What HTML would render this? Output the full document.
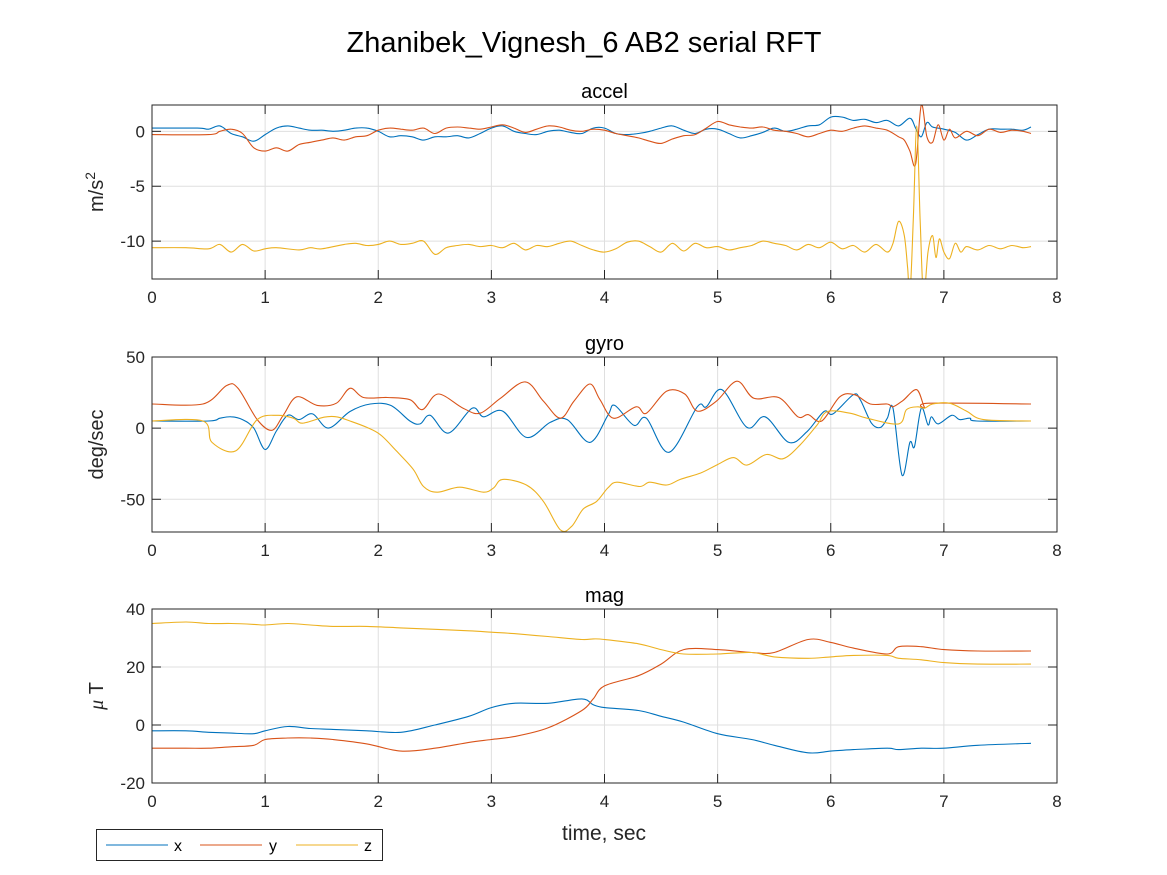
<!DOCTYPE html>
<html><head><meta charset="utf-8">
<style>
html,body{margin:0;padding:0;background:#fff;}
svg{display:block;font-family:"Liberation Sans",Arial,sans-serif;}
</style></head>
<body>
<svg id="chart" width="1167" height="875" viewBox="0 0 1167 875" xmlns="http://www.w3.org/2000/svg">
<rect width="1167" height="875" fill="#fff"/>
<text x="584" y="52" font-size="29" text-anchor="middle" fill="#000">Zhanibek_Vignesh_6 AB2 serial RFT</text>
<g id="plots"></g>
<g>
<rect x="96.5" y="829.5" width="286" height="31" fill="#fff" stroke="#262626" stroke-width="1"/>
<line x1="106" y1="845" x2="168" y2="845" stroke="#0072BD" stroke-width="1"/>
<text x="174" y="851" font-size="16">x</text>
<line x1="200" y1="845" x2="262" y2="845" stroke="#D95319" stroke-width="1"/>
<text x="269" y="851" font-size="16">y</text>
<line x1="296" y1="845" x2="358" y2="845" stroke="#EDB120" stroke-width="1"/>
<text x="364" y="851" font-size="16">z</text>
</g>
</svg>
<script>
// ---- data ----
const xTicks=[0,1,2,3,4,5,6,7,8];
const accelYTicks=[0,-5,-10];
const gyroYTicks=[50,0,-50];
const magYTicks=[40,20,0,-20];

const accelXt=[0,0.4,0.5,0.6,0.7,0.8,0.9,1.0,1.1,1.2,1.3,1.4,1.5,1.6,1.7,1.8,1.9,2.0,2.1,2.2,2.3,2.4,2.5,2.6,2.7,2.8,2.9,3.0,3.1,3.2,3.3,3.4,3.5,3.6,3.7,3.8,3.9,4.0,4.1,4.2,4.3,4.4,4.5,4.6,4.7,4.8,4.9,5.0,5.1,5.2,5.3,5.4,5.5,5.6,5.7,5.8,5.9,6.0,6.1,6.2,6.3,6.4,6.5,6.6,6.7,6.75,6.8,6.85,6.9,7.0,7.1,7.2,7.3,7.4,7.5,7.6,7.7,7.77];
const accelX=[0.3,0.3,0.2,0.5,-0.2,-0.5,-0.9,-0.3,0.3,0.5,0.3,0.1,0.1,0.0,0.1,0.3,0.3,0.0,-0.5,-0.4,-0.5,-0.8,-0.5,-0.5,-0.4,-0.6,-0.2,0.3,0.5,0.0,-0.2,-0.3,0.0,0.1,-0.1,-0.2,0.3,0.3,-0.2,-0.3,-0.2,0.0,0.3,0.5,0.1,-0.2,0.2,0.2,-0.2,-0.6,-0.4,-0.1,0.3,0.0,0.2,0.5,0.6,1.3,1.3,1.0,1.1,0.8,1.0,0.5,1.2,0.3,-0.5,0.8,0.4,0.2,-0.1,-0.8,-0.3,0.2,0.2,0.2,0.1,0.4];
const accelYt=[0,0.5,0.6,0.7,0.8,0.9,1.0,1.1,1.2,1.3,1.4,1.5,1.6,1.7,1.8,1.9,2.0,2.1,2.2,2.3,2.4,2.5,2.6,2.7,2.8,2.9,3.0,3.1,3.2,3.3,3.4,3.5,3.6,3.7,3.8,3.9,4.0,4.1,4.2,4.3,4.4,4.5,4.6,4.7,4.8,4.9,5.0,5.1,5.2,5.3,5.4,5.5,5.6,5.7,5.8,5.9,6.0,6.1,6.2,6.3,6.4,6.5,6.6,6.65,6.7,6.75,6.8,6.85,6.9,6.95,7.0,7.05,7.1,7.2,7.3,7.4,7.5,7.6,7.7,7.77];
const accelY=[-0.3,-0.3,0.0,0.2,-0.2,-1.5,-1.8,-1.5,-1.8,-1.2,-1.0,-0.8,-0.6,-0.8,-0.5,-0.4,0.1,0.3,0.2,0.1,0.3,-0.2,0.3,0.4,0.3,0.2,0.4,0.6,0.3,-0.1,0.2,0.5,0.4,0.1,0.0,0.2,0.1,-0.2,-0.4,-0.6,-0.9,-1.1,-0.7,-0.4,-0.3,0.3,0.9,0.6,0.4,0.3,0.4,0.1,0.0,-0.2,-0.5,-0.2,0.1,0.0,0.3,0.5,0.3,0.1,-0.5,-0.8,-1.8,-3.0,2.4,-0.5,-1.0,0.6,-0.8,0.2,-0.6,0.0,-0.4,0.2,-0.1,0.1,0.0,-0.2];
const accelZt=[0,0.3,0.5,0.6,0.7,0.8,0.9,1.0,1.1,1.3,1.4,1.5,1.7,1.8,1.9,2.0,2.1,2.2,2.3,2.4,2.5,2.6,2.7,2.8,2.9,3.0,3.1,3.2,3.3,3.4,3.5,3.6,3.7,3.8,3.9,4.0,4.1,4.2,4.3,4.4,4.5,4.6,4.7,4.8,4.9,5.0,5.1,5.2,5.3,5.4,5.5,5.6,5.7,5.8,5.9,6.0,6.1,6.2,6.3,6.4,6.5,6.55,6.6,6.65,6.68,6.7,6.73,6.76,6.79,6.82,6.86,6.9,6.93,6.96,7.0,7.05,7.1,7.15,7.2,7.3,7.4,7.5,7.6,7.7,7.77];
const accelZ=[-10.6,-10.6,-10.7,-10.3,-11.0,-10.3,-10.9,-10.7,-10.6,-10.8,-10.6,-10.7,-10.3,-10.2,-10.4,-10.3,-10.0,-10.3,-10.2,-10.0,-11.2,-10.6,-10.4,-10.3,-10.5,-10.4,-10.6,-10.2,-10.8,-10.4,-10.5,-10.2,-10.0,-10.4,-10.8,-11.0,-10.7,-10.1,-10.0,-10.5,-11.0,-10.2,-10.9,-10.2,-10.6,-10.5,-10.8,-10.6,-10.4,-10.0,-10.2,-10.4,-10.8,-10.3,-10.6,-10.1,-10.7,-10.4,-11.0,-10.3,-11.0,-10.2,-8.2,-9.5,-12.5,-15.0,-8.0,0.5,-8.0,-15.0,-11.0,-9.5,-11.5,-9.8,-11.0,-11.6,-10.2,-11.0,-10.5,-10.8,-10.4,-10.7,-10.4,-10.6,-10.5];

const gyroXt=[0,0.5,0.6,0.7,0.8,0.9,1.0,1.1,1.2,1.3,1.42,1.56,1.75,1.93,2.11,2.28,2.37,2.46,2.62,2.83,2.93,3.1,3.31,3.52,3.67,3.87,4.03,4.09,4.26,4.37,4.57,4.82,4.9,5.04,5.26,5.42,5.63,5.79,5.94,6.02,6.2,6.26,6.36,6.44,6.5,6.55,6.63,6.7,6.74,6.8,6.86,6.89,6.95,7.07,7.14,7.23,7.29,7.77];
const gyroX=[5,5,7,8,6,0,-15,-2,9,6,10,0,11.7,17,16,5,3,9,-3.5,14,8,12,-6.5,4,6,-10,9,16,2,7,-17,15,15,27,0.5,8,-10,-2.5,11.7,10,23.5,20,3.5,0.5,7,14,-33,-10,-13,14,2.3,8,3,9,6,7,5,5];
const gyroYt=[0,0.45,0.66,0.76,0.93,1.06,1.16,1.28,1.46,1.63,1.75,1.87,2.08,2.28,2.39,2.53,2.75,2.9,3.08,3.3,3.46,3.61,3.73,3.87,3.96,4.08,4.28,4.37,4.55,4.71,4.82,4.99,5.17,5.32,5.54,5.71,5.8,5.92,6.08,6.21,6.35,6.5,6.55,6.64,6.76,6.83,6.87,7.77];
const gyroY=[17,17,30,28,6,-1.5,9,22,16,17.5,28,21.5,21.5,20,13,24,14,10.5,21,32.5,19,7,19,31,20,7,15,10.5,26,24,12,19,33,21,21.5,8,9.5,5,22,23.5,17,17,15,19.5,27,14.5,17.5,17];
const gyroZt=[0,0.45,0.53,0.74,0.93,1.11,1.25,1.33,1.52,1.63,1.75,1.9,2.02,2.16,2.31,2.4,2.52,2.72,2.93,3.02,3.1,3.31,3.46,3.61,3.71,3.81,3.93,4.03,4.11,4.31,4.4,4.55,4.67,4.85,4.99,5.14,5.26,5.43,5.58,5.73,5.88,5.97,6.17,6.32,6.6,6.67,6.77,6.83,6.9,7.05,7.2,7.35,7.77];
const gyroZ=[5,5,-10,-16,6,9,7,3.5,7.7,8,5,0.5,-4.7,-16,-29,-41,-45,-41.5,-45,-42,-36,-40,-51.5,-71.5,-69,-57,-51.5,-42,-38,-41,-38,-40,-36,-31.5,-26,-20.7,-26,-18.5,-21.5,-11.7,2.3,11.7,10.5,7,3,13,15,14,17,17.5,12,6,5];

const magT=[0,0.3,0.5,0.7,0.9,1.0,1.2,1.4,1.6,1.9,2.2,2.5,2.8,3.0,3.2,3.5,3.8,3.9,4.0,4.3,4.5,4.7,5.0,5.3,5.5,5.8,6.0,6.2,6.5,6.6,6.8,7.0,7.3,7.77];
const magX=[-2,-2,-2.5,-2.8,-3,-2,-0.5,-1.2,-1.5,-2,-2.5,0,3,6,7.5,7.5,9,7,6,5,3,1,-3,-5,-7,-9.6,-9,-8.5,-8,-8.5,-8,-8,-7,-6.3];
const magY=[-8,-8,-8,-7.5,-7,-5,-4.5,-4.5,-5,-6.5,-9,-8,-6,-5,-4,-1,5,9,13.5,17,21,26,26,25,25,29.5,28.5,26.5,24.5,27,27,26,25.5,25.5];
const magZ=[35,35.5,35,35,34.7,34.5,35,34.5,34,34,33.5,33,32.5,32,31.5,30.5,29.5,29.7,29.5,28,26,24.5,24.5,25,23.5,23,23.5,24,24,23,22.5,21.5,21,21];

const COLORS={x:'#0072BD',y:'#D95319',z:'#EDB120'};
const X0=152,X1=1057;
function xs(t){return X0+(t/8)*(X1-X0);}
function mkY(top,bot,ymax,ymin){return v=>top+(ymax-v)/(ymax-ymin)*(bot-top);}
const NS='http://www.w3.org/2000/svg';
const root=document.getElementById('plots');
function el(tag,attrs,parent){const e=document.createElementNS(NS,tag);for(const k in attrs)e.setAttribute(k,attrs[k]);(parent||root).appendChild(e);return e;}
function pathD(ts,vs,ys){
  const p=ts.map((t,i)=>[xs(t),ys(vs[i])]);
  let d='M'+p[0][0].toFixed(1)+','+p[0][1].toFixed(1);
  for(let i=0;i<p.length-1;i++){
    const a=p[i-1]||p[i],b=p[i],c=p[i+1],e=p[i+2]||c;
    const c1=[b[0]+(c[0]-a[0])/6,b[1]+(c[1]-a[1])/6];
    const c2=[c[0]-(e[0]-b[0])/6,c[1]-(e[1]-b[1])/6];
    d+='C'+c1[0].toFixed(1)+','+c1[1].toFixed(1)+' '+c2[0].toFixed(1)+','+c2[1].toFixed(1)+' '+c[0].toFixed(1)+','+c[1].toFixed(1);
  }
  return d;
}
function panel(name,top,bot,ymax,ymin,yticks,title,ylabelHTML,series){
  const ys=mkY(top,bot,ymax,ymin);
  const g=el('g',{});
  
  
  xTicks.forEach(t=>{
    const l=el('line',{x1:xs(t),x2:xs(t),y1:top,y2:bot,stroke:'#dfdfdf','stroke-width':1},g);
    
    
  });
  yticks.forEach(v=>{
    const l=el('line',{x1:X0,x2:X1,y1:ys(v),y2:ys(v),stroke:'#dfdfdf','stroke-width':1},g);
    
    
  });
  const cp=el('clipPath',{id:'clip-'+name},g);
  el('rect',{x:X0,y:top,width:X1-X0,height:bot-top},cp);
  const sg=el('g',{'clip-path':'url(#clip-'+name+')'},g);
  series.forEach(s=>{
    const p=el('path',{d:pathD(s.t,s.v,ys),fill:'none',stroke:COLORS[s.k],'stroke-width':1.1,'stroke-linejoin':'round'},sg);
    
    
  });
  const box=el('rect',{x:X0,y:top,width:X1-X0,height:bot-top,fill:'none',stroke:'#262626','stroke-width':1},g);
  
  
  xTicks.forEach(t=>{
    el('line',{x1:xs(t),x2:xs(t),y1:bot,y2:bot-9,stroke:'#262626'},g);
    el('line',{x1:xs(t),x2:xs(t),y1:top,y2:top+9,stroke:'#262626'},g);
    const tx=el('text',{x:xs(t),y:bot+24,'font-size':17,'text-anchor':'middle',fill:'#262626'},g);
    tx.textContent=t;
    
    
  });
  yticks.forEach(v=>{
    el('line',{x1:X0,x2:X0+9,y1:ys(v),y2:ys(v),stroke:'#262626'},g);
    el('line',{x1:X1,x2:X1-9,y1:ys(v),y2:ys(v),stroke:'#262626'},g);
    const tx=el('text',{x:X0-7,y:ys(v)+6,'font-size':17,'text-anchor':'end',fill:'#262626'},g);
    tx.textContent=v;
    
    
  });
  const tt=el('text',{x:(X0+X1)/2,y:top-7,'font-size':20,'text-anchor':'middle',fill:'#000'},g);
  tt.textContent=title;
  
  
  const yl=el('text',{x:0,y:0,'font-size':20,'text-anchor':'middle',fill:'#262626',transform:'translate(103,'+((top+bot)/2)+') rotate(-90)'},g);
  yl.innerHTML=ylabelHTML;
  
  
}
panel('accel',105,279,2.4,-13.45,accelYTicks,'accel','m/s<tspan dy="-8" font-size="14">2</tspan>',
  [{k:'x',t:accelXt,v:accelX},{k:'y',t:accelYt,v:accelY},{k:'z',t:accelZt,v:accelZ}]);
panel('gyro',357,532,50,-73,gyroYTicks,'gyro','deg/sec',
  [{k:'x',t:gyroXt,v:gyroX},{k:'y',t:gyroYt,v:gyroY},{k:'z',t:gyroZt,v:gyroZ}]);
panel('mag',609,783,40,-20,magYTicks,'mag','<tspan font-style="italic" font-family="Liberation Serif">μ</tspan> T',
  [{k:'x',t:magT,v:magX},{k:'y',t:magT,v:magY},{k:'z',t:magT,v:magZ}]);
const xl=el('text',{x:604,y:840,'font-size':21,'text-anchor':'middle',fill:'#262626'});
xl.textContent='time, sec';


</script>
</body></html>
